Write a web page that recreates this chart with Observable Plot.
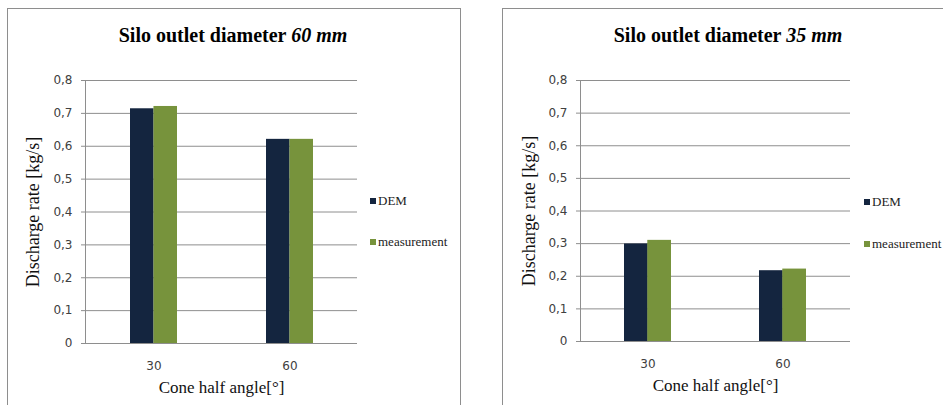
<!DOCTYPE html>
<html>
<head>
<meta charset="utf-8">
<script src="https://cdn.jsdelivr.net/npm/d3@7"></script>
<script src="https://cdn.jsdelivr.net/npm/@observablehq/plot@0.6"></script>
<style>
  html, body { margin: 0; padding: 0; background: #fff; }
  #root { position: relative; width: 943px; height: 405px; overflow: hidden; background: #fff; }
  .panel { position: absolute; border: 1px solid #8e8e8e; box-sizing: border-box; }
  .title { position: absolute; font-family: "Liberation Serif", serif; font-weight: bold; font-size: 20px; color: #000; white-space: nowrap; transform: translate(-50%, -50%); }
  .title i { font-style: italic; }
  .chart { position: absolute; top: 0; }
  .leg { position: absolute; font-family: "Liberation Serif", serif; font-size: 13px; color: #222; white-space: nowrap; display: flex; align-items: center; transform: translateY(-50%); }
  .leg span.sw { display: inline-block; width: 6px; height: 6px; margin-right: 2px; }
  g[aria-label="y-axis label"] text, g[aria-label="x-axis label"] text { font-family: "Liberation Serif", serif; font-size: 17px; fill: #111; }
  g[aria-label="y-axis label"] text { font-size: 18px; }
</style>
</head>
<body>
<div id="root"></div>
<script>
const categories = ["30", "60"];
const series = ["DEM", "measurement"];
const colors = ["#14253f", "#77933c"];
const dem60 = [0.714, 0.621];
const meas60 = [0.721, 0.621];
const dem35 = [0.299, 0.217];
const meas35 = [0.310, 0.222];
const yTicks = [0, 0.1, 0.2, 0.3, 0.4, 0.5, 0.6, 0.7, 0.8];
const titleMain = "Silo outlet diameter ";
const titleSizes = ["60 mm", "35 mm"];
const yLabel = "Discharge rate [kg/s]";
const xLabel = "Cone half angle[°]";

const root = document.getElementById("root");

function makeChart(dem, meas, opts) {
  const data = categories.flatMap((c, i) => [
    {angle: c, series: series[0], value: dem[i]},
    {angle: c, series: series[1], value: meas[i]}
  ]);
  const pi = 0.655;
  const bw = (opts.width - opts.marginLeft - opts.marginRight) / categories.length * (1 - pi);
  return Plot.plot({
    width: opts.width,
    height: 405,
    marginLeft: opts.marginLeft,
    marginRight: opts.marginRight,
    marginTop: 80,
    marginBottom: opts.marginBottom,
    style: {fontFamily: "DejaVu Sans", fontSize: "12px", color: "#404040", background: "transparent", overflow: "visible"},
    x: {domain: categories, paddingInner: pi, paddingOuter: pi / 2},
    y: {domain: [0, 0.8]},
    color: {domain: series, range: colors},
    marks: [
      Plot.ruleY(yTicks, {stroke: "#8e8e8e", strokeWidth: 1}),
      Plot.frame({anchor: "left", stroke: "#8e8e8e"}),
      Plot.barY(data.filter(d => d.series === series[0]), {x: "angle", y: "value", fill: "series", insetRight: bw / 2}),
      Plot.barY(data.filter(d => d.series === series[1]), {x: "angle", y: "value", fill: "series", insetLeft: bw / 2}),
      Plot.axisY(yTicks, {tickSize: 4, stroke: "#8e8e8e", tickPadding: 9, tickFormat: d => String(d).replace(".", ","),
        label: yLabel, labelArrow: "none", labelAnchor: "center", labelOffset: opts.yLabelOffset}),
      Plot.axisX({tickSize: 0, tickPadding: 18, label: xLabel, labelArrow: "none", labelAnchor: "center", labelOffset: 49})
    ]
  });
}

function addPanel(cfg) {
  const p = document.createElement("div");
  p.className = "panel";
  Object.assign(p.style, cfg.box);
  root.appendChild(p);

  const c = document.createElement("div");
  c.className = "chart";
  c.style.left = cfg.chartLeft + "px";
  c.appendChild(makeChart(cfg.dem, cfg.meas, cfg.opts));
  root.appendChild(c);

  const t = document.createElement("div");
  t.className = "title";
  t.style.left = cfg.titleX + "px";
  t.style.top = "35px";
  t.innerHTML = titleMain + "<i>" + cfg.titleSize + "</i>";
  root.appendChild(t);

  series.forEach((s, i) => {
    const l = document.createElement("div");
    l.className = "leg";
    l.style.left = cfg.legX + "px";
    l.style.top = cfg.legY[i] + "px";
    l.innerHTML = `<span class="sw" style="background:${colors[i]}"></span>${s}`;
    root.appendChild(l);
  });
}

addPanel({
  box: {left: "7px", top: "8px", width: "454px", height: "420px"},
  chartLeft: 0,
  dem: dem60, meas: meas60,
  opts: {width: 470, marginLeft: 85, marginRight: 113, marginBottom: 62, yLabelOffset: 59},
  titleX: 233, titleSize: titleSizes[0],
  legX: 370, legY: [201, 242]
});

addPanel({
  box: {left: "502px", top: "8px", width: "460px", height: "420px"},
  chartLeft: 470,
  dem: dem35, meas: meas35,
  opts: {width: 473, marginLeft: 110, marginRight: 93, marginBottom: 64, yLabelOffset: 58},
  titleX: 728, titleSize: titleSizes[1],
  legX: 864, legY: [202, 244]
});
</script>
</body>
</html>
